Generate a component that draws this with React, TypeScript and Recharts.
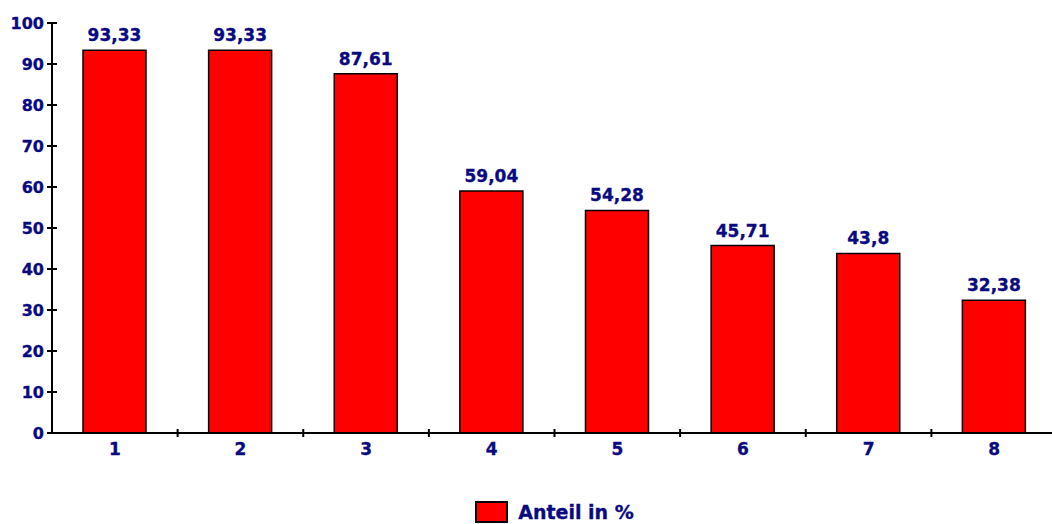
import { Bar, BarChart, LabelList, Legend, XAxis, YAxis } from 'recharts'

const categories = ['1', '2', '3', '4', '5', '6', '7', '8']
const shares = [93.33, 93.33, 87.61, 59.04, 54.28, 45.71, 43.8, 32.38]
const yTicks = [0, 10, 20, 30, 40, 50, 60, 70, 80, 90, 100]
const seriesName = 'Anteil in %'

const NAVY = '#0a0a80'
const FONT = '"DejaVu Sans", Arial, sans-serif'

const CHART_W = 1060
const CHART_H = 524
const AXIS_W = 52
const RIGHT = 3
const PLOT_W = CHART_W - AXIS_W - RIGHT
const BAND = PLOT_W / categories.length

const data = categories.map((cat, i) => ({ cat, share: shares[i] }))

const fmt = (v: number) => String(v).replace('.', ',')

// shared look for all texts: heavy navy
const txt = { fill: NAVY, fontWeight: 'bold', fontFamily: FONT, stroke: NAVY, strokeWidth: 0.35 }

function YTick(props: any) {
  const { x, y, payload } = props
  return (
    <g>
      <line x1={x - 5} x2={x + 5} y1={y} y2={y} stroke="#000" strokeWidth={2} />
      <text x={x - 8} y={y + 6} textAnchor="end" fontSize={16} {...txt}>
        {payload.value}
      </text>
    </g>
  )
}

function XTick(props: any) {
  const { x, y, payload, index } = props
  return (
    <g>
      {index > 0 && (
        <line x1={x - BAND / 2} x2={x - BAND / 2} y1={y - 4} y2={y + 4} stroke="#000" strokeWidth={2} />
      )}
      <text x={x} y={y + 22} textAnchor="middle" fontSize={17} {...txt}>
        {payload.value}
      </text>
    </g>
  )
}

function ValueLabel(props: any) {
  const { x, y, width, value } = props
  return (
    <text x={x + width / 2} y={y - 9} textAnchor="middle" fontSize={17} {...txt}>
      {fmt(value)}
    </text>
  )
}

function LegendBox() {
  return (
    <div style={{ display: 'flex', justifyContent: 'center', alignItems: 'center' }}>
      <div style={{ width: 29, height: 18, background: '#ff0000', border: '2px solid #000' }} />
      <span
        style={{
          marginLeft: 10,
          color: NAVY,
          fontSize: 19,
          fontWeight: 'bold',
          fontFamily: FONT,
          lineHeight: '22px',
          WebkitTextStroke: `0.35px ${NAVY}`,
        }}
      >
        {seriesName}
      </span>
    </div>
  )
}

export default function App() {
  return (
    <div style={{ position: 'fixed', left: 0, top: 0, width: 1052, height: 524, overflow: 'hidden', background: '#fff' }}>
      <BarChart
        width={CHART_W}
        height={CHART_H}
        data={data}
        margin={{ top: 23, right: RIGHT, bottom: 0, left: 0 }}
        barSize={63}
      >
        <XAxis
          dataKey="cat"
          height={91}
          axisLine={{ stroke: '#000', strokeWidth: 2 }}
          tickLine={false}
          tickSize={0}
          tickMargin={0}
          tick={<XTick />}
          interval={0}
        />
        <YAxis
          width={AXIS_W}
          domain={[0, 100]}
          ticks={yTicks}
          axisLine={{ stroke: '#000', strokeWidth: 2 }}
          tickLine={false}
          tickSize={0}
          tickMargin={0}
          tick={<YTick />}
          interval={0}
        />
        <Legend
          verticalAlign="middle"
          align="center"
          layout="horizontal"
          content={<LegendBox />}
          wrapperStyle={{ top: 501, left: AXIS_W, width: PLOT_W }}
        />
        <Bar dataKey="share" name={seriesName} fill="#ff0000" stroke="#000" strokeWidth={1.5} isAnimationActive={false}>
          <LabelList dataKey="share" content={<ValueLabel />} />
        </Bar>
      </BarChart>
    </div>
  )
}
